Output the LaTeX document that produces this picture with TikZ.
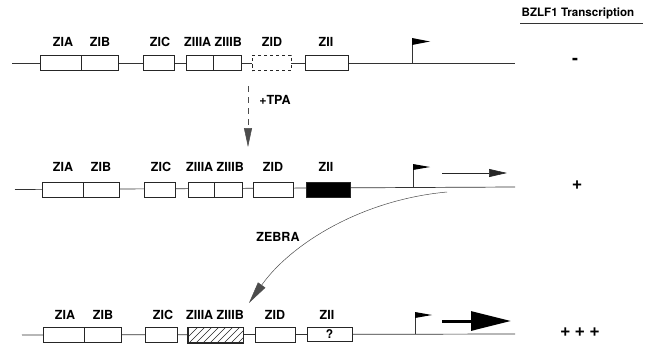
\documentclass[tikz,border=0pt]{standalone}
\usepackage{fontspec}
\setmainfont{TeX Gyre Heros}
\usetikzlibrary{arrows.meta}
\begin{document}
\begin{tikzpicture}[x=1pt,y=-1pt,
  seg/.style={draw=black!85,line width=0.6pt,fill=white,inner sep=0pt,minimum height=15pt},
  lbl/.style={font=\bfseries\fontsize{12.5}{13}\selectfont,inner sep=0pt},
  sign/.style={font=\bfseries\fontsize{18}{18}\selectfont,inner sep=0pt},
  backbone/.style={draw=black!80,line width=0.7pt},
  flagpole/.style={draw=black!80,line width=0.5pt},
  flagtri/.style={fill=black},
  conn/.style={draw=black!70,line width=0.5pt}]
\useasboundingbox (0,0) rectangle (650,345);
% header
\node[font=\bfseries\fontsize{11.6}{12}\selectfont,inner sep=0pt] (hdr) at (578,13) {BZLF1 Transcription};
\coordinate (ul1) at (520,23); \coordinate (ul2) at (643,23);
\draw[black!80,line width=0.5pt] (ul1) -- (ul2);
% ---------- Row 1 ----------
\coordinate (r1s) at (12,63); \coordinate (r1e) at (515,63);
\draw[backbone] (r1s) -- (r1e);
\node[seg,minimum width=41pt] (a1) at (60.5,63) {};
\node[seg,minimum width=37pt] (b1) at (99.5,63) {};
\node[seg,minimum width=31pt] (c1) at (158.5,63) {};
\node[seg,minimum width=27pt] (iiia1) at (199.5,63) {};
\node[seg,minimum width=28pt] (iiib1) at (227,63) {};
\node[seg,minimum width=39pt,dashed] (d1) at (271.5,63) {};
\node[seg,minimum width=43pt] (ii1) at (326.5,63) {};
\node[lbl] at (63,42) {ZIA};
\node[lbl] at (100,42) {ZIB};
\node[lbl] at (160,42) {ZIC};
\node[lbl] at (213,42) {ZIIIA ZIIIB};
\node[lbl] at (272,42) {ZID};
\node[lbl] at (326,42) {ZII};
\coordinate (f1b) at (412,63); \coordinate (f1t) at (412,38);
\draw[flagpole] (f1b) -- (f1t);
\fill[flagtri] (f1t) -- (430,41.5) -- (412,45) -- cycle;
\node[sign] (s1) at (575,61) {-};
% TPA arrow
\coordinate (tpa1) at (248,86); \coordinate (tpa2) at (248,147);
\draw[conn,dash pattern=on 6pt off 5pt,-{Triangle[length=19pt,width=8pt]}] (tpa1) -- (tpa2);
\node[lbl] at (275,100) {+TPA};
% ---------- Row 2 ----------
\coordinate (r2s) at (15,189.5); \coordinate (r2e) at (515,187);
\draw[backbone] (r2s) -- (r2e);
\node[seg,minimum width=41pt] (a2) at (62.5,189.5) {};
\node[seg,minimum width=36pt] (b2) at (101,189.5) {};
\node[seg,minimum width=31pt] (c2) at (159.5,189.5) {};
\node[seg,minimum width=26pt] (iiia2) at (201,189.5) {};
\node[seg,minimum width=28pt] (iiib2) at (228,189.5) {};
\node[seg,minimum width=40pt] (d2) at (273,189.5) {};
\node[seg,minimum width=44pt,fill=black] (ii2) at (328,189.5) {};
\node[lbl] at (63,167) {ZIA};
\node[lbl] at (101,167) {ZIB};
\node[lbl] at (161,167) {ZIC};
\node[lbl] at (215,167) {ZIIIA ZIIIB};
\node[lbl] at (273,167) {ZID};
\node[lbl] at (326,167) {ZII};
\coordinate (f2b) at (413,188); \coordinate (f2t) at (413,164);
\draw[flagpole] (f2b) -- (f2t);
\fill[flagtri] (f2t) -- (430,167) -- (413,170) -- cycle;
\coordinate (tr2a) at (442,173); \coordinate (tr2b) at (507,173);
\draw[black!85,line width=0.6pt,-{Triangle[length=18pt,width=8pt]}] (tr2a) -- (tr2b);
\node[sign] (s2) at (577,185) {+};
% ZEBRA arrow
\coordinate (z1) at (447,192); \coordinate (z2) at (249,303);
\draw[conn,-{Triangle[length=22pt,width=9pt]}] (z1) .. controls (360,200) and (290,245) .. (z2);
\node[lbl] at (278,237) {ZEBRA};
% ---------- Row 3 ----------
\coordinate (r3s) at (22,335); \coordinate (r3e) at (515,334);
\draw[backbone] (r3s) -- (r3e);
\node[seg,minimum width=41pt] (a3) at (63.5,335) {};
\node[seg,minimum width=37pt] (b3) at (102.5,335) {};
\node[seg,minimum width=32pt] (c3) at (161,335) {};
\node[seg,minimum width=55pt] (iii3) at (215.5,335) {};
\begin{scope}
\clip (iii3.south west) rectangle (iii3.north east);
\foreach \i in {0,...,10} {\draw[black!85,line width=0.5pt] (180+7*\i,345) -- (200+7*\i,325);}
\end{scope}
\draw[black!85,line width=0.6pt] (iii3.south west) rectangle (iii3.north east);
\node[seg,minimum width=40pt] (d3) at (275,335) {};
\node[seg,minimum width=45pt,minimum height=14pt,font=\bfseries\fontsize{12}{12}\selectfont] (ii3) at (329.5,334) {?};
\node[lbl] at (65,315) {ZIA};
\node[lbl] at (103,315) {ZIB};
\node[lbl] at (163,315) {ZIC};
\node[lbl] at (215,315) {ZIIIA ZIIIB};
\node[lbl] at (275,315) {ZID};
\node[lbl] at (327,315) {ZII};
\coordinate (f3b) at (415,334); \coordinate (f3t) at (415,312);
\draw[flagpole] (f3b) -- (f3t);
\fill[flagtri] (f3t) -- (432,315) -- (415,318) -- cycle;
\coordinate (tr3a) at (442,321); \coordinate (tr3b) at (511,321);
\draw[black,line width=3pt,-{Triangle[length=40pt,width=19pt]}] (tr3a) -- (tr3b);
\node[sign] (s3) at (580,332) {+\hspace{4pt}+\hspace{4pt}+};
\end{tikzpicture}
\end{document}
